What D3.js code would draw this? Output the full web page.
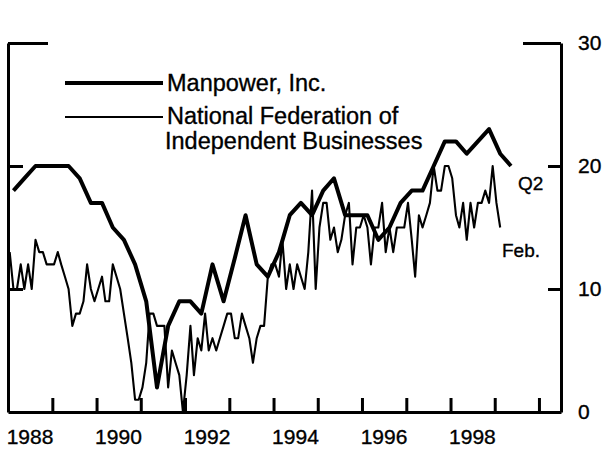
<!DOCTYPE html>
<html>
<head>
<meta charset="utf-8">
<script src="https://cdn.jsdelivr.net/npm/d3@7"></script>
<style>
  body { margin: 0; background: #fff; }
  svg { display: block; font-family: "Liberation Sans", Arial, Helvetica, sans-serif; }
  svg text { fill: #000; stroke: #000; stroke-width: 0.35; }
  .axis path, .axis line { stroke: #000; stroke-width: 3; }
  .axis text { font-size: 21px; }
</style>
</head>
<body>
<svg id="chart" width="604" height="451"></svg>
<script>
// Manpower, Inc. -- quarterly, 1988 Q1 to 1999 Q2
var manpower = [
  18, 19, 20, 20,
  20, 20, 19, 17,
  17, 15, 14, 12,
  9, 2, 7, 9,
  9, 8, 12, 9,
  12.5, 16, 12, 11,
  13, 16, 17, 16,
  18, 19, 16, 16,
  16, 14, 15, 17,
  18, 18, 20, 22,
  22, 21, 22, 23,
  21, 20
];

// National Federation of Independent Businesses -- monthly, Jan 1988 to Feb 1999
var nfib = [
  13, 10, 10, 12, 10, 12, 10, 14, 13, 13, 12, 12,
  12, 13, 12, 11, 10, 7, 8, 8, 9, 12, 10, 9,
  10, 11, 9, 9, 12, 11, 10, 8, 6, 4, 1, 1,
  2, 4, 8, 8, 7, 7, 7, 2, 5, 4, 3, 0,
  3, 7, 3, 6, 5, 8, 5, 6, 5, 6, 7, 8,
  8, 6, 6, 8, 7, 6, 4, 6, 7, 7, 11, 12,
  12, 11, 14, 10, 12, 10, 12, 11, 10, 13, 18, 10,
  15, 17, 17, 14, 15, 13, 14, 16, 17, 12, 15, 15,
  16, 15, 12, 15, 15, 17, 13, 15, 13, 15, 15, 15,
  17, 14, 11, 16, 15, 16, 17, 20, 18, 18, 20, 20,
  19, 16, 15, 17, 14, 17, 15, 17, 17, 18, 17, 20,
  17, 15
];

var yearTicks = [1989, 1990, 1991, 1992, 1993, 1994, 1995, 1996, 1997, 1998, 1999, 2000];
var yearLabels = [1988, 1990, 1992, 1994, 1996, 1998];
var valueTicks = [0, 10, 20, 30];

var svg = d3.select("#chart"),
    margin = { top: 43, left: 8, right: 561, bottom: 412 };

var x = d3.scaleTime()
    .domain([new Date(1988, 0, 1), new Date(2000, 6, 1)])
    .range([margin.left, margin.right]);

var y = d3.scaleLinear()
    .domain([0, 30])
    .range([margin.bottom, margin.top]);

// bottom axis, ticks pointing up at each new year
svg.append("g")
    .attr("class", "axis")
    .attr("transform", `translate(0,${margin.bottom})`)
    .call(d3.axisBottom(x)
        .tickValues(yearTicks.map(d => new Date(d, 0, 1)))
        .tickSize(-14).tickSizeOuter(0).tickFormat(""));

// year labels centred on mid-year
svg.append("g")
    .selectAll("text")
    .data(yearLabels)
    .enter().append("text")
    .attr("x", d => x(new Date(d, 6, 1)))
    .attr("y", 444)
    .attr("text-anchor", "middle")
    .style("font-size", "21px")
    .text(d => d);

// right axis with labels
var rightAxis = svg.append("g")
    .attr("class", "axis")
    .attr("transform", `translate(${margin.right},0)`)
    .call(d3.axisRight(y)
        .tickValues(valueTicks)
        .tickSize(-13).tickSizeOuter(0).tickPadding(17));
rightAxis.selectAll(".tick").filter(d => d == 30).select("line").attr("x2", -38);
rightAxis.selectAll(".tick").filter(d => d == 0).select("line").remove();

// left axis, ticks only
var leftAxis = svg.append("g")
    .attr("class", "axis")
    .attr("transform", `translate(${margin.left},0)`)
    .call(d3.axisLeft(y)
        .tickValues(valueTicks.slice(1))
        .tickSize(-15).tickSizeOuter(0).tickFormat(""));
leftAxis.selectAll(".tick").filter(d => d == 30).select("line").attr("x2", 40);

var line = d3.line()
    .x(d => x(d.date))
    .y(d => y(d.value));

var nfibData = nfib.map((v, i) => ({ date: new Date(1988, i, 15), value: v }));
var manData = manpower.map((v, i) => ({ date: new Date(1988, i * 3 + 1, 15), value: v }));

svg.append("path")
    .datum(nfibData)
    .attr("fill", "none")
    .attr("stroke", "#000")
    .attr("stroke-width", 2.1)
    .attr("stroke-linejoin", "round")
    .attr("d", line);

svg.append("path")
    .datum(manData)
    .attr("fill", "none")
    .attr("stroke", "#000")
    .attr("stroke-width", 4)
    .attr("stroke-linejoin", "round")
    .attr("d", line);

// end labels
svg.append("text")
    .attr("x", 518).attr("y", 190)
    .style("font-size", "19px")
    .text("Q2");
svg.append("text")
    .attr("x", 502).attr("y", 257)
    .style("font-size", "19px")
    .text("Feb.");

// legend
var legend = svg.append("g").style("font-size", "23.5px");
legend.append("line")
    .attr("x1", 65).attr("x2", 163).attr("y1", 83).attr("y2", 83)
    .attr("stroke", "#000").attr("stroke-width", 4);
legend.append("text").attr("x", 167).attr("y", 91).text("Manpower, Inc.");
legend.append("line")
    .attr("x1", 65).attr("x2", 163).attr("y1", 117).attr("y2", 117)
    .attr("stroke", "#000").attr("stroke-width", 2.1);
legend.append("text").attr("x", 167).attr("y", 124).text("National Federation of");
legend.append("text").attr("x", 165).attr("y", 149).text("Independent Businesses");
</script>
</body>
</html>
